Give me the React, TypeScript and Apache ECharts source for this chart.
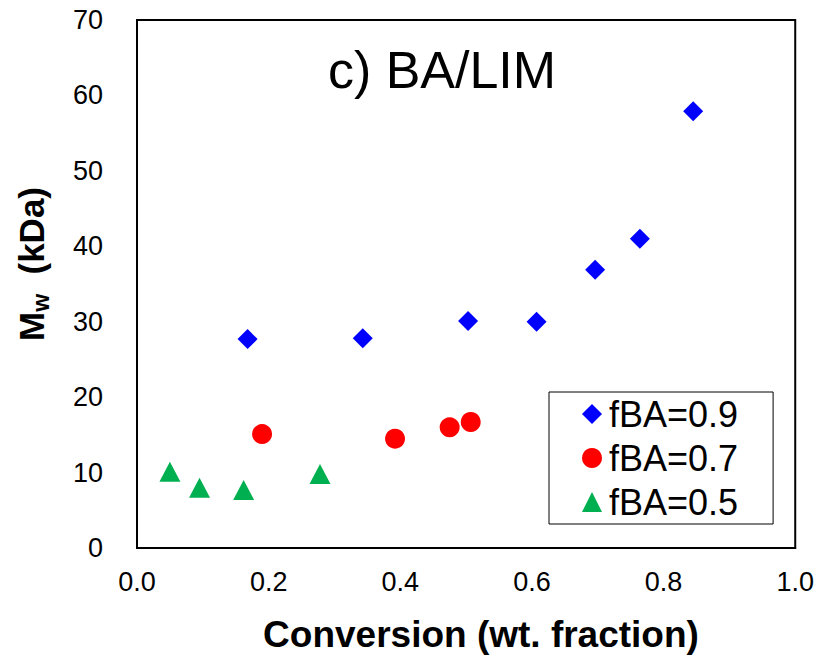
import React, { useEffect, useRef } from "react";
import * as echarts from "echarts";

const FONT = "'Liberation Sans', Arial, sans-serif";

const seriesNames = ["fBA=0.9", "fBA=0.7", "fBA=0.5"];
const blueX = [0.168, 0.343, 0.503, 0.607, 0.696, 0.764, 0.845];
const blueY = [27.7, 27.8, 30.1, 30.0, 36.9, 41.0, 57.9];
const redX = [0.19, 0.392, 0.475, 0.507];
const redY = [15.1, 14.5, 16.0, 16.7];
const greenX = [0.05, 0.095, 0.162, 0.278];
const greenY = [10.1, 8.0, 7.7, 9.8];

const titleText = "c) BA/LIM";
const xTitle = "Conversion (wt. fraction)";

const zip = (xs: number[], ys: number[]) => xs.map((x, i) => [x, ys[i]]);

export default function App() {
  const ref = useRef<HTMLDivElement>(null);
  useEffect(() => {
    document.body.style.margin = "0";
    const chart = echarts.init(ref.current!, undefined, { renderer: "svg" });
    chart.setOption({
      animation: false,
      backgroundColor: "#ffffff",
      grid: {
        left: 137,
        right: 19,
        top: 20,
        bottom: 107,
        show: true,
        borderColor: "#000",
        borderWidth: 2,
        containLabel: false,
      },
      xAxis: {
        type: "value",
        min: 0,
        max: 1,
        interval: 0.2,
        axisLine: { show: true, lineStyle: { color: "#000", width: 2 } },
        axisTick: { show: false },
        splitLine: { show: false },
        axisLabel: {
          color: "#000",
          fontSize: 27,
          fontFamily: FONT,
          margin: 20,
          formatter: (v: number) => v.toFixed(1),
        },
      },
      yAxis: {
        type: "value",
        min: 0,
        max: 70,
        interval: 10,
        axisLine: { show: true, lineStyle: { color: "#000", width: 2 } },
        axisTick: { show: false },
        splitLine: { show: false },
        axisLabel: {
          color: "#000",
          fontSize: 27,
          fontFamily: FONT,
          margin: 34,
        },
      },
      legend: {
        orient: "vertical",
        left: 549,
        top: 392,
        padding: [4, 35, 4, 33],
        itemGap: 8,
        itemWidth: 20,
        itemHeight: 20,
        borderColor: "#000",
        borderWidth: 1,
        backgroundColor: "#fff",
        data: [
          { name: seriesNames[0], icon: "diamond" },
          { name: seriesNames[1], icon: "circle" },
          { name: seriesNames[2], icon: "triangle" },
        ],
        textStyle: {
          color: "#000",
          fontSize: 36,
          fontFamily: FONT,
          padding: [0, 0, 0, 2],
        },
      },
      series: [
        {
          name: seriesNames[0],
          type: "scatter",
          symbol: "diamond",
          symbolSize: 20,
          itemStyle: { color: "#0000FF", opacity: 1 },
          data: zip(blueX, blueY),
        },
        {
          name: seriesNames[1],
          type: "scatter",
          symbol: "circle",
          symbolSize: 20,
          itemStyle: { color: "#FF0000", opacity: 1 },
          data: zip(redX, redY),
        },
        {
          name: seriesNames[2],
          type: "scatter",
          symbol: "triangle",
          symbolSize: [21, 20],
          itemStyle: { color: "#00B050", opacity: 1 },
          data: zip(greenX, greenY),
        },
      ],
      graphic: [
        {
          type: "text",
          x: 442,
          y: 70,
          style: {
            text: titleText,
            fontSize: 52,
            fontFamily: FONT,
            fill: "#000",
            align: "center",
            verticalAlign: "middle",
          },
        },
        {
          type: "text",
          x: 481,
          y: 634,
          style: {
            text: xTitle,
            fontSize: 37,
            fontWeight: "bold",
            fontFamily: FONT,
            fill: "#000",
            align: "center",
            verticalAlign: "middle",
          },
        },
        {
          type: "text",
          x: 31,
          y: 264,
          rotation: Math.PI / 2,
          style: {
            text: "{a|M}{b|w}{a|  (kDa)}",
            align: "center",
            verticalAlign: "middle",
            fill: "#000",
            rich: {
              a: {
                fontSize: 35,
                fontWeight: "bold",
                fontFamily: FONT,
                lineHeight: 35,
                verticalAlign: "top",
                fill: "#000",
              },
              b: {
                fontSize: 23,
                fontWeight: "bold",
                fontFamily: FONT,
                lineHeight: 23,
                padding: [16, 0, 0, 0],
                verticalAlign: "top",
                fill: "#000",
              },
            },
          },
        },
      ],
    });
    return () => chart.dispose();
  }, []);
  return <div ref={ref} style={{ width: 817, height: 655 }} />;
}
